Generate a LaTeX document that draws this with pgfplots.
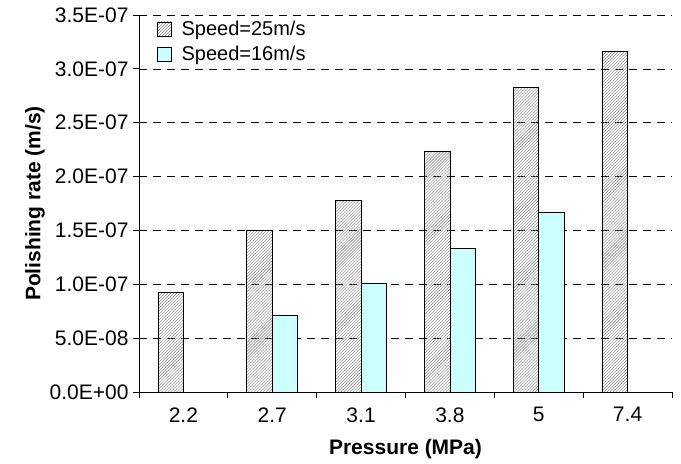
\documentclass[border=0pt]{standalone}
\usepackage{pgfplots}
\pgfplotsset{compat=1.18}
\usepackage{fontspec}
\setmainfont{Liberation Sans}
\usetikzlibrary{patterns}
\definecolor{lightcyan}{HTML}{CCFFFF}
\begin{document}
\begin{tikzpicture}
\useasboundingbox (0,0) rectangle (681bp,464bp);
\begin{axis}[
  at={(139bp,72bp)}, anchor=south west,
  scale only axis, width=533bp, height=377bp,
  xmin=-0.5, xmax=5.5, ymin=0, ymax=3.5e-7,
  ybar=0pt, bar width=25.5bp,
  axis x line*=bottom, axis y line*=left,
  axis line style={black, line width=0.8bp},
  xtick={0,1,2,3,4,5},
  xticklabels={2.2,2.7,3.1,3.8,5,7.4},
  xtick style={draw=none},
  extra x ticks={-0.5,0.5,1.5,2.5,3.5,4.5,5.5},
  extra x tick labels={},
  extra x tick style={grid=none, xtick style={draw=black, line width=0.8bp}},
  ytick={0,0.5e-7,1e-7,1.5e-7,2e-7,2.5e-7,3e-7,3.5e-7},
  yticklabels={0.0E+00,5.0E-08,1.0E-07,1.5E-07,2.0E-07,2.5E-07,3.0E-07,3.5E-07},
  scaled y ticks=false,
  ytick style={black, line width=0.8bp},
  tick align=outside, major tick length=6bp,
  ymajorgrids,
  grid style={black, line width=0.7bp, dash pattern=on 8bp off 6bp},
  tick label style={font=\fontsize{21bp}{24bp}\selectfont},
  yticklabel style={xshift=-1bp},
  xticklabel style={yshift=-6bp},
  xlabel={\bfseries Pressure (MPa)},
  ylabel={\bfseries Polishing rate (m/s)},
  label style={font=\fontsize{21bp}{24bp}\selectfont},
  xlabel style={yshift=2bp},
  ylabel style={yshift=-2bp},
  legend style={draw=none, fill=none, at={(0.033,0.99)}, anchor=north west,
    font=\fontsize{20bp}{23bp}\selectfont, row sep=5bp, inner sep=0pt,
    nodes={inner sep=2bp}},
  legend cell align=left,
  legend image code/.code={\draw[#1] (0bp,-7bp) rectangle (14bp,7bp);},
]
\addplot[draw=black, line width=0.8bp, pattern=north east lines, pattern color=gray]
  coordinates {(0,0.921e-7) (1,1.503e-7) (2,1.775e-7) (3,2.238e-7) (4,2.826e-7) (5,3.163e-7)};
\addplot[draw=black, line width=0.8bp, fill=lightcyan]
  coordinates {(1,0.714e-7) (2,1.005e-7) (3,1.336e-7) (4,1.670e-7)};
\legend{\hspace{8bp}Speed=25m/s, \hspace{8bp}Speed=16m/s}
\end{axis}
\end{tikzpicture}
\end{document}
